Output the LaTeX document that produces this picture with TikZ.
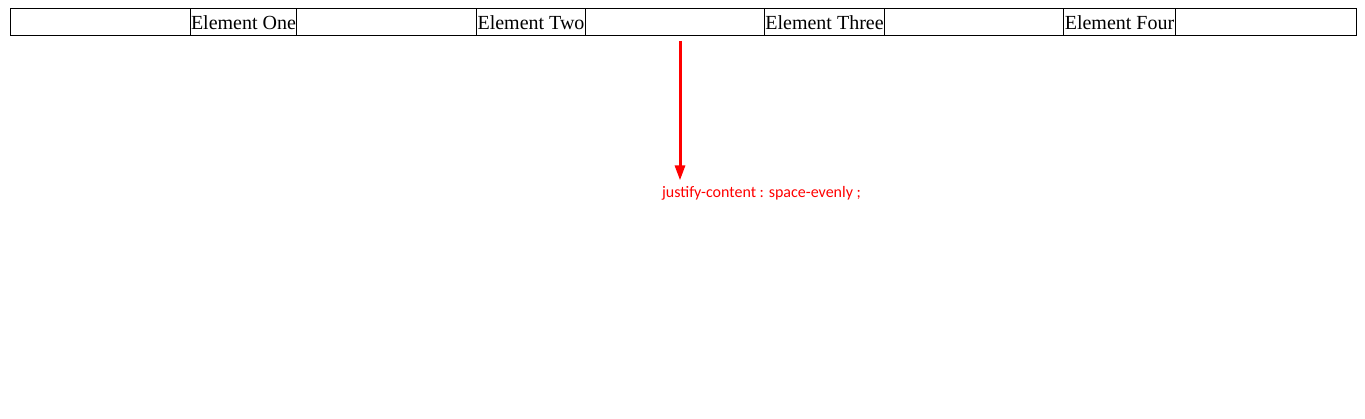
\documentclass[tikz,border=0pt]{standalone}
\usepackage{fontspec}
\setmainfont{Liberation Serif}
\newfontfamily\notefont{Carlito}
\usetikzlibrary{arrows.meta}
\tikzset{
  elem/.style={draw, line width=1pt, inner xsep=1pt, inner ysep=0pt,
    minimum height=27pt, font=\fontsize{20}{20}\selectfont},
  note/.style={text=red, inner sep=0pt, font=\notefont\fontsize{16}{16}\selectfont},
}
\begin{document}
\begin{tikzpicture}[x=1pt, y=-1pt]
                \useasboundingbox (0,0) rectangle (1365,419);
                \draw[line width=1pt] (10,9) rectangle (1356,36);
                \node[elem] (one) at (243.5,22.5) {Element One};
                \node[elem] (two) at (531,22.5) {Element Two};
                \node[elem] (three) at (824.5,22.5) {Element Three};
                \node[elem] (four) at (1119.5,22.5) {Element Four};
                \node[note] (lbl) at (761.5,193.5) {justify-content : space-evenly ;};
                \coordinate (start) at (680,41);
                \coordinate (end) at ([yshift=6pt]start |- lbl.north);
                \draw[red, line width=3pt, -{Triangle[length=15pt, width=10pt]}] (start) -- (end);
            \end{tikzpicture}
\end{document}
